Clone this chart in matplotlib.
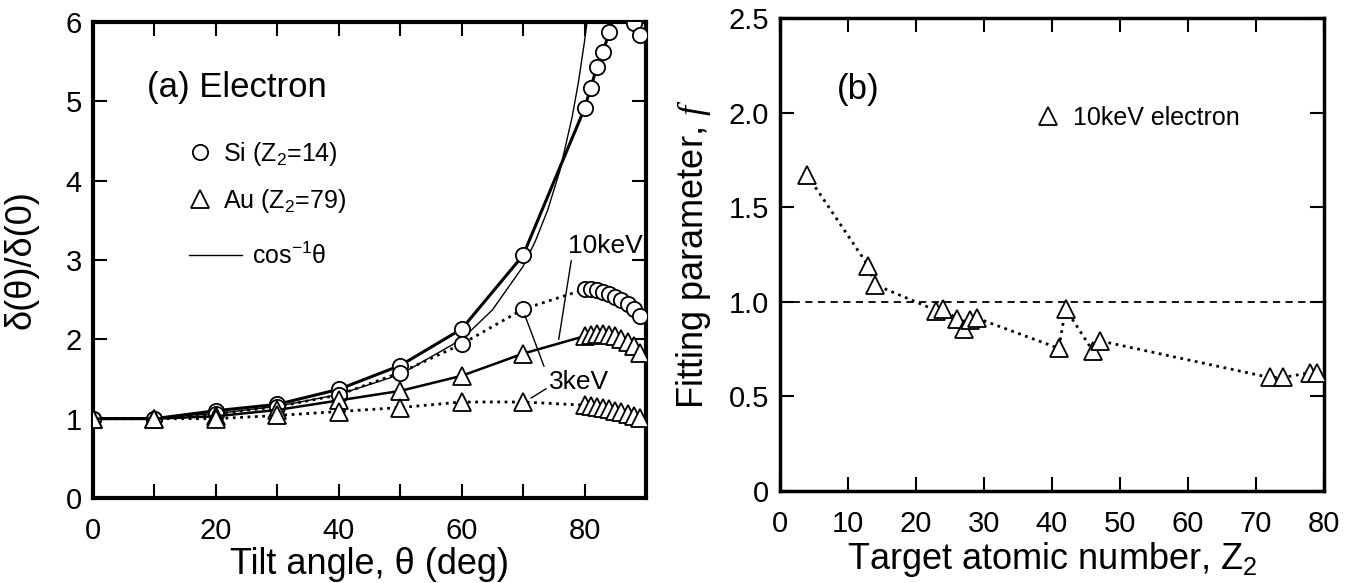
import matplotlib
matplotlib.use("Agg")
import matplotlib.pyplot as plt
from matplotlib.lines import Line2D

plt.rcParams['font.family'] = ['Liberation Sans', 'DejaVu Sans']
plt.rcParams['mathtext.fontset'] = 'custom'
plt.rcParams['mathtext.rm'] = 'Liberation Sans'
plt.rcParams['mathtext.it'] = 'Liberation Serif:italic'
plt.rcParams['mathtext.default'] = 'rm'

# ---------------- Panel (a) data ----------------
theta_main = [0, 10, 20, 30, 40, 50, 60, 70]
theta_fine = [80, 81, 82, 83, 84, 85, 86, 87, 88, 89]

si_10_main = [1.00, 1.00, 1.10, 1.18, 1.37, 1.67, 2.13, 3.06]
si_10_fine = [4.91, 5.17, 5.43, 5.62, 5.87, 6.15, 6.25, 6.20, 5.99, 5.84]

si_3_main = [1.00, 1.00, 1.06, 1.15, 1.30, 1.58, 1.94, 2.38]
si_3_fine = [2.63, 2.63, 2.62, 2.60, 2.57, 2.53, 2.49, 2.44, 2.38, 2.30]

au_10_main = [1.00, 1.00, 1.03, 1.11, 1.23, 1.35, 1.54, 1.82]
au_10_fine = [2.04, 2.06, 2.07, 2.07, 2.06, 2.04, 2.01, 1.97, 1.91, 1.83]

au_3_main = [1.00, 1.00, 1.00, 1.04, 1.09, 1.14, 1.21, 1.21]
au_3_fine = [1.17, 1.16, 1.15, 1.14, 1.12, 1.10, 1.08, 1.06, 1.03, 1.01]

cos_theta = [0, 10, 20, 30, 40, 50, 60, 65, 70, 72, 74, 76, 78, 79, 80, 80.4, 81]
cos_value = [1.00, 1.015, 1.064, 1.155, 1.305, 1.556, 2.00, 2.37, 2.92, 3.24,
             3.63, 4.13, 4.81, 5.24, 5.76, 6.00, 6.39]

# ---------------- Panel (b) data ----------------
z2 = [4, 13, 14, 23, 24, 26, 27, 28, 29, 41, 42, 46, 47, 72, 74, 78, 79]
f_param = [1.67, 1.19, 1.09, 0.954, 0.963, 0.91, 0.856, 0.906, 0.913,
           0.754, 0.963, 0.741, 0.794, 0.60, 0.60, 0.626, 0.626]
f_reference = 1.0

fig = plt.figure(figsize=(13.56, 5.83), dpi=100)
axa = fig.add_axes([0.0686, 0.1458, 0.4078, 0.8165])
axb = fig.add_axes([0.5752, 0.1578, 0.4012, 0.8113])

mk = dict(markerfacecolor='white', markeredgecolor='black', markeredgewidth=1.3)
CIRC = 11
TRI = 13

# cos^-1 line
axa.plot(cos_theta, cos_value, '-', color='black', lw=1.0, zorder=2)
# Si 10 keV (solid)
axa.plot(theta_main + theta_fine, si_10_main + si_10_fine, '-', color='black', lw=2.2,
         marker='o', markersize=CIRC, zorder=3, **mk)
# Si 3 keV (dotted)
axa.plot(theta_main + theta_fine, si_3_main + si_3_fine, ':', color='black', lw=2.0,
         marker='o', markersize=CIRC, zorder=3, **mk)
# Au 10 keV (solid)
axa.plot(theta_main + theta_fine, au_10_main + au_10_fine, '-', color='black', lw=1.8,
         marker='^', markersize=TRI, zorder=4, **mk)
# Au 3 keV (dotted)
axa.plot(theta_main + theta_fine, au_3_main + au_3_fine, ':', color='black', lw=2.0,
         marker='^', markersize=TRI, zorder=4, **mk)

axa.set_xlim(0, 90)
axa.set_ylim(0, 6)
axa.set_xticks(range(0, 91, 10))
axa.set_xticklabels(['0', '', '20', '', '40', '', '60', '', '80', ''])
axa.set_yticks(range(0, 7))
axa.tick_params(direction='in', length=10, width=1.5, top=True, right=True,
                labelsize=21)
axa.tick_params(axis='x', pad=14)
axa.tick_params(axis='y', pad=8)
for s in axa.spines.values():
    s.set_linewidth(3.0)
axa.set_xlabel('Tilt angle, θ (deg)', fontsize=26, labelpad=1)
axa.set_ylabel('δ(θ)/δ(0)', fontsize=26)
axa.yaxis.set_label_coords(-0.098, 0.5)

axa.text(8.8, 5.18, '(a) Electron', fontsize=25, va='center', ha='left')

axa.annotate('10keV', xy=(75.8, 2.0), xytext=(77.3, 3.18), fontsize=19,
             va='center', ha='left',
             arrowprops=dict(arrowstyle='-', color='black', lw=1.0,
                             relpos=(0.05, 0.0), shrinkA=0, shrinkB=0))
axa.annotate('3keV', xy=(71.3, 1.26), xytext=(74.2, 1.46), fontsize=19,
             va='center', ha='left',
             arrowprops=dict(arrowstyle='-', color='black', lw=1.0,
                             relpos=(0.0, 0.3), shrinkA=0, shrinkB=0))
axa.annotate('', xy=(70.3, 2.30), xytext=(73.4, 1.66),
             arrowprops=dict(arrowstyle='-', color='black', lw=1.0,
                             shrinkA=0, shrinkB=0))

h1 = [Line2D([], [], ls='none', marker='o', markersize=CIRC, **mk),
      Line2D([], [], ls='none', marker='^', markersize=TRI, **mk)]
leg1 = axa.legend(h1, ['Si (Z$_2$=14)', 'Au (Z$_2$=79)'], loc='upper left',
                  bbox_to_anchor=(0.176, 0.752), frameon=False, fontsize=18,
                  handlelength=0.8, handletextpad=0.5, borderpad=0,
                  borderaxespad=0, labelspacing=0.75)
axa.add_artist(leg1)
h2 = [Line2D([], [], ls='-', color='black', lw=1.0)]
axa.legend(h2, ['cos$^{-1}$θ'], loc='upper left', bbox_to_anchor=(0.174, 0.537),
           frameon=False, fontsize=18, handlelength=2.1, handletextpad=0.4,
           borderpad=0, borderaxespad=0)

# ---------------- Panel (b) ----------------
axb.axhline(f_reference, ls='--', color='black', lw=1.3, dashes=(4, 3), zorder=1)
axb.plot(z2, f_param, ':', color='black', lw=2.0, marker='^', markersize=TRI,
         zorder=3, **mk)
axb.set_xlim(0, 80)
axb.set_ylim(0, 2.5)
axb.set_xticks(range(0, 81, 10))
axb.set_yticks([0, 0.5, 1.0, 1.5, 2.0, 2.5])
axb.set_yticklabels(['0', '0.5', '1.0', '1.5', '2.0', '2.5'])
axb.tick_params(direction='in', length=10, width=1.5, top=True, right=True,
                labelsize=21)
axb.tick_params(axis='x', pad=14)
axb.tick_params(axis='y', pad=8)
for s in axb.spines.values():
    s.set_linewidth(2.5)
axb.set_xlabel('Target atomic number, Z$_2$', fontsize=26, labelpad=1)
axb.set_ylabel(r'Fitting parameter, $\mathit{f}$', fontsize=26)
axb.yaxis.set_label_coords(-0.123, 0.5)
axb.text(8.4, 2.12, '(b)', fontsize=25, va='center', ha='left')

h3 = [Line2D([], [], ls='none', marker='^', markersize=TRI, **mk)]
axb.legend(h3, ['10keV electron'], loc='upper left', bbox_to_anchor=(0.474, 0.815),
           frameon=False, fontsize=18, handlelength=0.8, handletextpad=0.6,
           borderpad=0, borderaxespad=0)

fig.savefig('out.png', dpi=100)
